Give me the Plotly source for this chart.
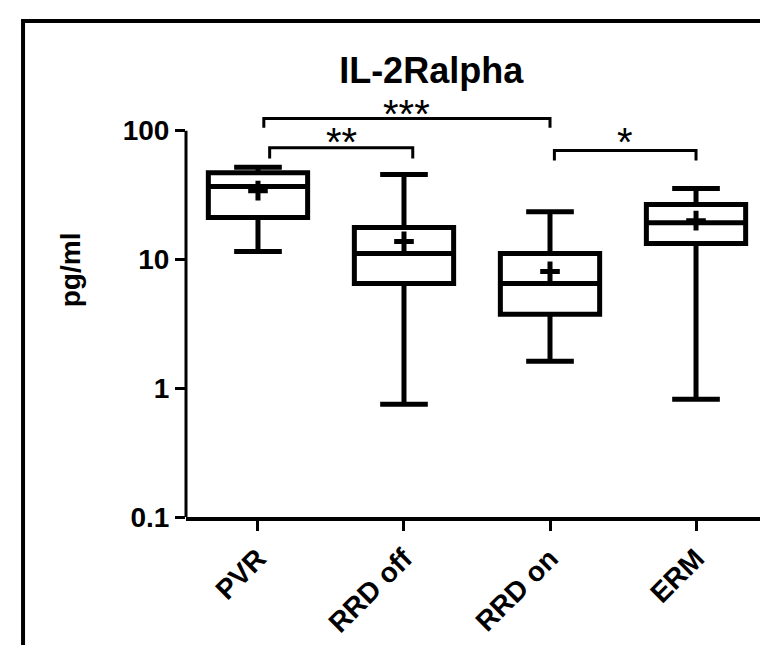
import plotly.graph_objects as go
import numpy as np

# ---------------- data ----------------
categories = ["PVR", "RRD off", "RRD on", "ERM"]
lower_whisker = [11.5, 0.75, 1.62, 0.82]
q1_vals = [21.2, 6.5, 3.75, 13.3]
median_vals = [36.8, 11.1, 6.5, 19.3]
q3_vals = [47.2, 17.7, 11.1, 26.7]
upper_whisker = [52.0, 45.6, 23.5, 35.5]
mean_vals = [34.2, 13.8, 8.07, 20.0]

y_tick_vals = [0.1, 1, 10, 100]
y_tick_text = ["0.1", "1", "10", "100"]

# significance brackets
sig_left = ["PVR", "PVR", "RRD on"]
sig_right = ["RRD on", "RRD off", "ERM"]
sig_labels = ["***", "**", "*"]
sig_top = [124, 73.8, 70]
sig_foot = [105.5, 60.7, 58.5]
sig_text_y = [135, 82, 82]

# ---------------- style ----------------
FONT = "Liberation Sans, Arial, Helvetica, sans-serif"
left_nudge = [0.04, 0.08, 0.03]
right_nudge = [0.0, 0.06, 0.0]

xpos = list(range(len(categories)))

fig = go.Figure()

fig.add_trace(go.Box(
    x=xpos, q1=q1_vals, median=median_vals, q3=q3_vals,
    lowerfence=lower_whisker, upperfence=upper_whisker,
    width=0.68, whiskerwidth=0.48,
    line=dict(color="black", width=5), fillcolor="white",
    boxpoints=False, showlegend=False, hoverinfo="skip",
))

fig.add_trace(go.Scatter(
    x=xpos, y=mean_vals, mode="markers", showlegend=False,
    marker=dict(symbol="cross-thin", size=14, color="black",
                line=dict(color="black", width=5)),
))

for i in range(len(sig_labels)):
    a = categories.index(sig_left[i]) + left_nudge[i]
    b = categories.index(sig_right[i]) + right_nudge[i]
    fig.add_trace(go.Scatter(
        x=[a, a, b, b], y=[sig_foot[i], sig_top[i], sig_top[i], sig_foot[i]],
        mode="lines", line=dict(color="black", width=3), showlegend=False,
        hoverinfo="skip",
    ))
    fig.add_annotation(
        x=(a + b) / 2, y=np.log10(sig_text_y[i]), xref="x", yref="y",
        text=sig_labels[i], showarrow=False, xanchor="center",
        yanchor="middle",
        font=dict(family=FONT, size=40, color="black"),
    )

# y axis line from 0.1 to 100
fig.add_shape(type="line", xref="paper", x0=0, x1=0, yref="y",
              y0=y_tick_vals[0], y1=y_tick_vals[-1],
              line=dict(color="black", width=3))

# outer frame
fig.add_shape(type="rect", xref="paper", yref="paper",
              x0=-0.280, x1=1.5, y0=-1.0, y1=1.167,
              line=dict(color="black", width=4), fillcolor="rgba(0,0,0,0)")

fig.add_annotation(
    x=-0.199, y=0.581, xref="paper", yref="paper", text="pg/ml",
    textangle=-90, showarrow=False, xanchor="center", yanchor="middle",
    font=dict(family=FONT, size=28, color="black", weight="bold"),
)

fig.update_layout(
    width=768, height=645,
    margin=dict(l=178, r=8, t=84, b=136),
    paper_bgcolor="white", plot_bgcolor="white",
    title=dict(text="IL-2Ralpha", x=0.551, xanchor="center", y=0.903,
               yanchor="middle",
               font=dict(family=FONT, size=36, color="black", weight="bold")),
    xaxis=dict(range=[-0.493, 3.493], tickvals=xpos, ticktext=categories,
               tickangle=-45, ticks="outside", ticklen=10, tickwidth=3,
               tickcolor="black", showline=True, linewidth=4,
               linecolor="black", showgrid=False, zeroline=False,
               tickfont=dict(family=FONT, size=28, color="black",
                             weight="bold")),
    yaxis=dict(type="log", range=[-1, 2.3], tickvals=y_tick_vals,
               ticktext=y_tick_text, ticks="outside", ticklen=10,
               tickwidth=3, tickcolor="black", showline=False,
               showgrid=False, zeroline=False,
               tickfont=dict(family=FONT, size=28, color="black",
                             weight="bold")),
)

fig.write_html("out.html")
